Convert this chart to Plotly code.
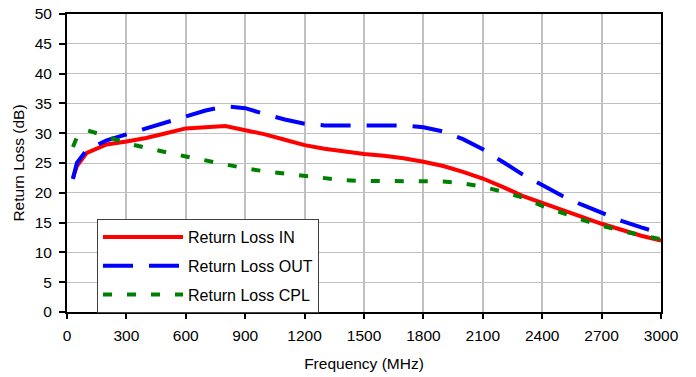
import plotly.graph_objects as go

freq = [30, 50, 100, 200, 300, 400, 500, 600, 700, 800, 900, 1000, 1100, 1200, 1300,
        1400, 1500, 1600, 1700, 1800, 1900, 2000, 2100, 2200, 2300, 2400, 2500, 2600,
        2700, 2800, 2900, 3000]

rl_in = [22.5, 24.5, 26.7, 28.1, 28.6, 29.2, 30.0, 30.8, 31.0, 31.2, 30.5, 29.8, 28.9,
         28.0, 27.4, 26.9, 26.5, 26.2, 25.8, 25.2, 24.5, 23.5, 22.4, 21.0, 19.5, 18.3,
         17.1, 16.0, 14.8, 13.8, 12.8, 12.0]

rl_out = [22.3, 25.0, 27.2, 28.8, 29.8, 30.8, 31.9, 32.9, 33.8, 34.5, 34.2, 33.2, 32.3,
          31.6, 31.3, 31.3, 31.3, 31.3, 31.3, 31.0, 30.3, 29.0, 27.3, 25.2, 23.1, 21.3,
          19.5, 18.0, 16.6, 15.3, 14.2, 13.2]

rl_cpl = [27.7, 29.3, 30.5, 29.5, 28.3, 27.5, 26.8, 26.1, 25.4, 24.7, 24.1, 23.6, 23.2,
          22.8, 22.4, 22.1, 22.0, 22.0, 22.0, 22.0, 21.9, 21.6, 21.0, 20.2, 19.2, 17.8,
          16.6, 15.5, 14.5, 13.6, 12.9, 12.2]

x_ticks = list(range(0, 3001, 300))
y_ticks = list(range(0, 51, 5))

fig = go.Figure()
fig.add_trace(go.Scatter(x=freq, y=rl_in, mode="lines", name="Return Loss IN",
                         legendgroup="in",
                         line=dict(color="#ff0000", width=4)))
fig.add_trace(go.Scatter(x=freq, y=rl_out, mode="lines", name="Return Loss OUT",
                         legendgroup="out",
                         line=dict(color="#0000ff", width=4, dash="30px,16px")))
fig.add_trace(go.Scatter(x=freq, y=rl_cpl, mode="lines", name="Return Loss CPL",
                         legendgroup="cpl",
                         line=dict(color="#008000", width=4, dash="9px,15px")))

fam = "Liberation Sans, Arial, sans-serif"
font = dict(family=fam, size=15.5, color="#000000")

fig.update_layout(
    width=696, height=377,
    margin=dict(l=67, r=35, t=14, b=65, autoexpand=False),
    paper_bgcolor="#ffffff", plot_bgcolor="#ffffff",
    font=font,
    showlegend=True,
    legend=dict(x=0.0505, y=0.312, xanchor="left", yanchor="top",
                bgcolor="#ffffff", bordercolor="#404040", borderwidth=1,
                font=dict(family=fam, size=16, color="#000000"),
                tracegroupgap=5, itemwidth=80),
    xaxis=dict(range=[0, 3000], tickvals=x_ticks, ticktext=[str(v) for v in x_ticks],
               showgrid=True, gridcolor="#c0c0c0", gridwidth=2,
               showline=True, linecolor="#000000", linewidth=2, mirror=True,
               ticks="outside", ticklen=5, tickwidth=2, tickcolor="#000000",
               ticklabelstandoff=3, automargin=False,
               zeroline=False,
               title=dict(text="Frequency (MHz)", font=font, standoff=16)),
    yaxis=dict(range=[0, 50], tickvals=y_ticks,
               showgrid=True, gridcolor="#c0c0c0", gridwidth=1,
               showline=True, linecolor="#000000", linewidth=2, mirror=True,
               ticks="outside", ticklen=6, tickwidth=2, tickcolor="#000000",
               ticklabelstandoff=4, automargin=False,
               zeroline=False,
               title=dict(text="Return Loss (dB)", font=font, standoff=6)),
)

fig.write_html("out.html")
